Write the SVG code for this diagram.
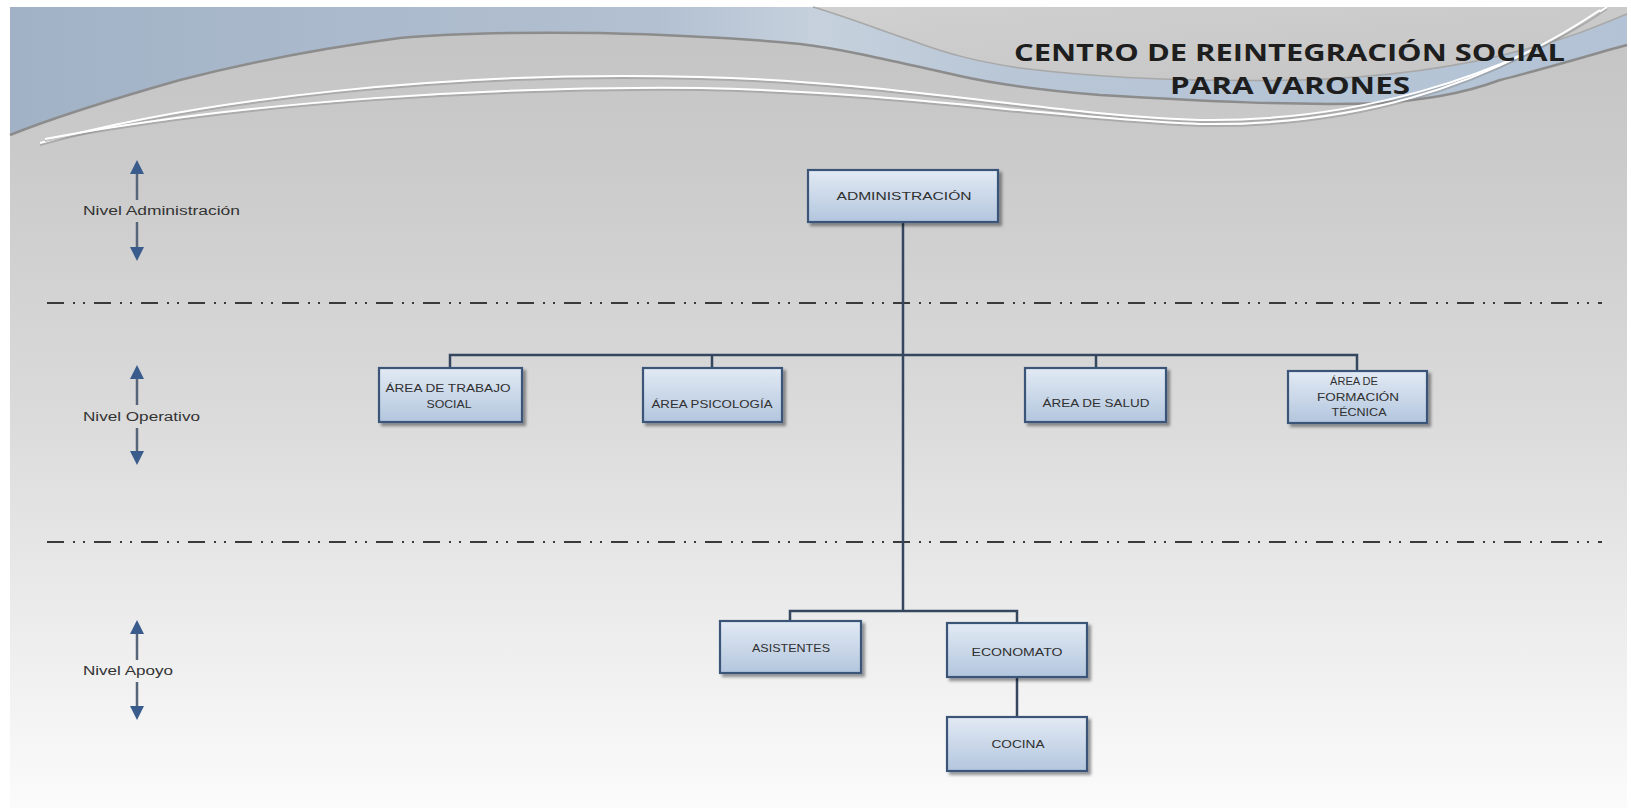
<svg xmlns="http://www.w3.org/2000/svg" width="1631" height="808" viewBox="0 0 1631 808">
  <defs>
    <linearGradient id="bgGrad" x1="0" y1="0" x2="0" y2="1">
      <stop offset="0" stop-color="#c3c3c3"/>
      <stop offset="0.2" stop-color="#cbcbcb"/>
      <stop offset="0.5" stop-color="#dadada"/>
      <stop offset="0.75" stop-color="#ebebeb"/>
      <stop offset="1" stop-color="#fbfbfb"/>
    </linearGradient>
    <linearGradient id="blueGrad" x1="0" y1="0" x2="1" y2="0">
      <stop offset="0" stop-color="#a2b2c6"/>
      <stop offset="0.4" stop-color="#b2c0d1"/>
      <stop offset="0.5" stop-color="#c6d1dd"/>
      <stop offset="0.62" stop-color="#b8c6d6"/>
      <stop offset="1" stop-color="#b3c3d5"/>
    </linearGradient>
    <linearGradient id="grayTR" x1="0" y1="0" x2="1" y2="1">
      <stop offset="0" stop-color="#d0d0d0"/>
      <stop offset="1" stop-color="#c5c5c5"/>
    </linearGradient>
    <linearGradient id="boxGrad" x1="0" y1="0" x2="0" y2="1">
      <stop offset="0" stop-color="#e2eaf4"/>
      <stop offset="1" stop-color="#b3c6de"/>
    </linearGradient>
    <filter id="shadow" x="-10%" y="-20%" width="130%" height="150%">
      <feDropShadow dx="3" dy="3" stdDeviation="1.5" flood-color="#000" flood-opacity="0.4"/>
    </filter>
    <marker id="ah" viewBox="0 0 10 10" refX="5" refY="5" markerWidth="14" markerHeight="14" markerUnits="userSpaceOnUse" orient="auto">
      <path d="M0,0 L10,5 L0,10 Z" fill="#3a5c8c"/>
    </marker>
    <style>
      .box { fill: url(#boxGrad); stroke: #3b5479; stroke-width: 2.2; filter: url(#shadow); }
      .lbl { font-family: "Liberation Sans", Arial, sans-serif; font-size: 11.5px; fill: #303030; text-anchor: middle; }
      .lvl { font-family: "Liberation Sans", Arial, sans-serif; font-size: 12px; fill: #333; }
      .conn { stroke: #34475f; stroke-width: 2.5; fill: none; }
      .sep { stroke: #3a3a3a; stroke-width: 2; stroke-dasharray: 17 9 2 8 2 9; fill: none; }
      .arr { stroke: #56657a; stroke-width: 2.5; fill: none; marker-end: url(#ah); }
      .title { font-family: "Open Sans", "Liberation Sans", sans-serif; font-weight: bold; font-size: 24px; fill: #1e1e1e; }
      .wl { fill: none; stroke: #ffffff; stroke-width: 2; }
      .wls { fill: none; stroke: #8e8e8e; stroke-width: 2; opacity: 0.5; }
    </style>
  </defs>

  <!-- background -->
  <rect x="0" y="0" width="1631" height="808" fill="#ffffff"/>
  <rect x="10" y="7" width="1617" height="801" fill="url(#bgGrad)"/>

  <!-- header decoration -->
  <g id="header">
    <path d="M10,7 H1627 V45 C1590,55 1540,70 1500,80 C1460,95 1420,100 1380,103 C1300,106 1200,101 1100,95 C1040,90 1000,85 960,76 C900,63 850,50 800,44 C740,38 680,35 600,33 C520,32 450,33 400,38 C330,47 250,62 180,80 C120,97 60,115 10,135 Z" fill="url(#blueGrad)"/>
    <path d="M10,135 C60,115 120,97 180,80 C250,62 330,47 400,38 C450,33 520,32 600,33 C680,35 740,38 800,44 C850,50 900,63 960,76 C1000,85 1040,90 1100,95 C1200,101 1300,106 1380,103 C1420,100 1460,95 1500,80 C1540,70 1590,55 1627,45" fill="none" stroke="#8c8c8c" stroke-width="2.5"/>
    <path d="M813,7 C850,18 880,30 910,40 C950,55 980,62 1020,68 C1100,78 1200,82 1300,80 C1400,77 1470,65 1530,48 C1570,38 1600,25 1627,14 V7 Z" fill="url(#grayTR)"/>
    <path d="M813,7 C850,18 880,30 910,40 C950,55 980,62 1020,68 C1100,78 1200,82 1300,80 C1400,77 1470,65 1530,48 C1570,38 1600,25 1627,14" fill="none" stroke="#a8a8a8" stroke-width="1.5"/>
    <path class="wls" d="M40,145 C200,101 450,72 700,79 C900,84 1050,117 1200,122 C1350,124 1500,82 1607,9"/>
    <path class="wl" d="M40,143 C200,99 450,70 700,77 C900,82 1050,115 1200,120 C1350,122 1500,80 1607,7"/>
    <path class="wls" d="M45,141 C250,102 500,88 700,90 C900,94 1050,120 1200,126 C1350,128 1480,92 1600,12"/>
    <path class="wl" d="M45,139 C250,100 500,86 700,88 C900,92 1050,118 1200,124 C1350,126 1480,90 1600,10" stroke-width="1.5"/>
    <text class="title" x="1014" y="61" textLength="551" lengthAdjust="spacingAndGlyphs">CENTRO DE REINTEGRACIÓN SOCIAL</text>
    <text class="title" x="1170" y="94" textLength="240" lengthAdjust="spacingAndGlyphs">PARA VARONES</text>
  </g>

  <!-- level separators -->
  <g id="separators">
    <line class="sep" x1="47" y1="303" x2="1602" y2="303"/>
    <line class="sep" x1="47" y1="542" x2="1602" y2="542"/>
  </g>

  <!-- level labels -->
  <g id="level-admin">
    <line class="arr" x1="137" y1="200" x2="137" y2="167"/>
    <line class="arr" x1="137" y1="222" x2="137" y2="254"/>
    <text class="lvl" x="83" y="215" textLength="157" lengthAdjust="spacingAndGlyphs">Nivel Administración</text>
  </g>
  <g id="level-operativo">
    <line class="arr" x1="137" y1="405" x2="137" y2="372"/>
    <line class="arr" x1="137" y1="428" x2="137" y2="458"/>
    <text class="lvl" x="83" y="421" textLength="117" lengthAdjust="spacingAndGlyphs">Nivel Operativo</text>
  </g>
  <g id="level-apoyo">
    <line class="arr" x1="137" y1="660" x2="137" y2="627"/>
    <line class="arr" x1="137" y1="682" x2="137" y2="713"/>
    <text class="lvl" x="83" y="675" textLength="90" lengthAdjust="spacingAndGlyphs">Nivel Apoyo</text>
  </g>

  <!-- connectors -->
  <g id="connectors">
    <path class="conn" d="M903,222 V611"/>
    <path class="conn" d="M450,368 V355 H1357 V371"/>
    <path class="conn" d="M712,355 V368"/>
    <path class="conn" d="M1096,355 V368"/>
    <path class="conn" d="M790,621 V611 H1017 V623"/>
    <path class="conn" d="M1017,677 V717"/>
  </g>

  <!-- nodes -->
  <g id="n-administracion">
    <rect class="box" x="808" y="170" width="190" height="52"/>
    <text class="lbl" x="904" y="200" textLength="135" lengthAdjust="spacingAndGlyphs">ADMINISTRACIÓN</text>
  </g>
  <g id="n-trabajo-social">
    <rect class="box" x="379" y="368" width="143" height="54"/>
    <text class="lbl" x="448" y="392" textLength="125" lengthAdjust="spacingAndGlyphs">ÁREA DE TRABAJO</text>
    <text class="lbl" x="449" y="408" textLength="45" lengthAdjust="spacingAndGlyphs">SOCIAL</text>
  </g>
  <g id="n-psicologia">
    <rect class="box" x="643" y="368" width="139" height="54"/>
    <text class="lbl" x="712" y="408" textLength="121" lengthAdjust="spacingAndGlyphs">ÁREA PSICOLOGÍA</text>
  </g>
  <g id="n-salud">
    <rect class="box" x="1025" y="368" width="141" height="54"/>
    <text class="lbl" x="1096" y="407" textLength="107" lengthAdjust="spacingAndGlyphs">ÁREA DE SALUD</text>
  </g>
  <g id="n-formacion">
    <rect class="box" x="1288" y="371" width="139" height="52"/>
    <text class="lbl" x="1354" y="385" textLength="48" lengthAdjust="spacingAndGlyphs">ÁREA DE</text>
    <text class="lbl" x="1358" y="401" textLength="82" lengthAdjust="spacingAndGlyphs">FORMACIÓN</text>
    <text class="lbl" x="1359" y="416" textLength="55" lengthAdjust="spacingAndGlyphs">TÉCNICA</text>
  </g>
  <g id="n-asistentes">
    <rect class="box" x="720" y="621" width="141" height="52"/>
    <text class="lbl" x="791" y="652" textLength="78" lengthAdjust="spacingAndGlyphs">ASISTENTES</text>
  </g>
  <g id="n-economato">
    <rect class="box" x="947" y="623" width="140" height="54"/>
    <text class="lbl" x="1017" y="656" textLength="91" lengthAdjust="spacingAndGlyphs">ECONOMATO</text>
  </g>
  <g id="n-cocina">
    <rect class="box" x="947" y="717" width="140" height="54"/>
    <text class="lbl" x="1018" y="748" textLength="53" lengthAdjust="spacingAndGlyphs">COCINA</text>
  </g>
</svg>
